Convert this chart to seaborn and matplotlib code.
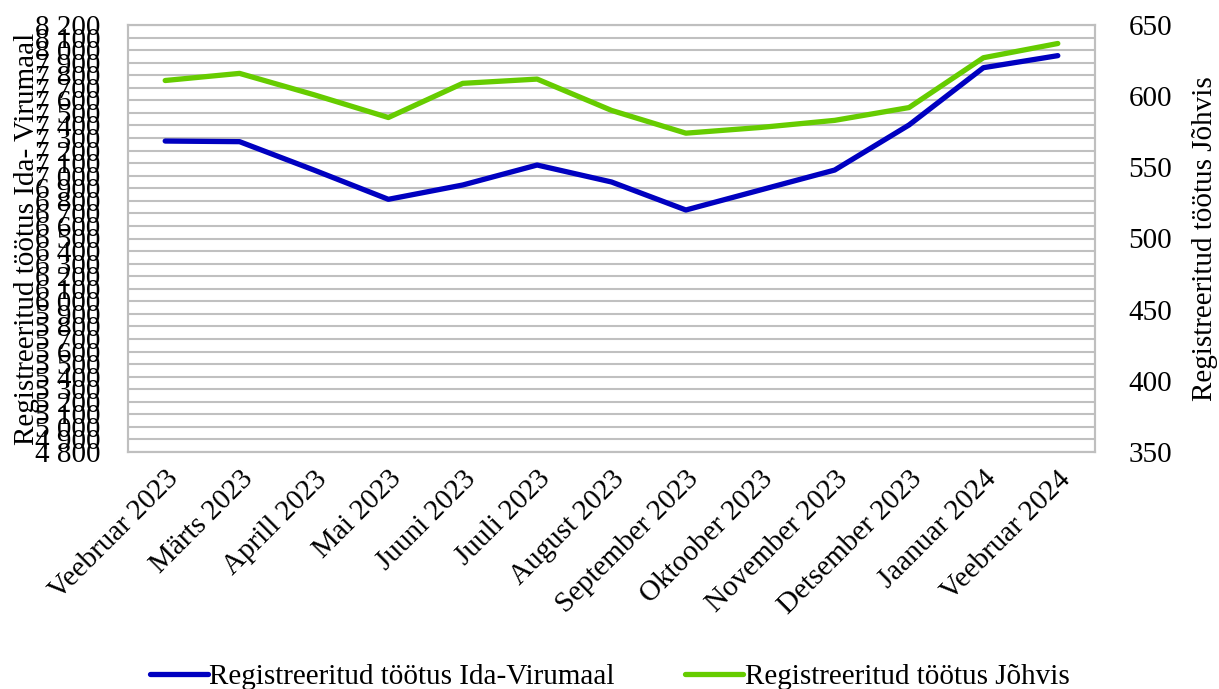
import matplotlib
matplotlib.use("Agg")
import matplotlib.pyplot as plt
import matplotlib.ticker as mticker
import seaborn as sns
import pandas as pd
import numpy as np

months = ["Veebruar 2023", "Märts 2023", "Aprill 2023", "Mai 2023", "Juuni 2023",
          "Juuli 2023", "August 2023", "September 2023", "Oktoober 2023",
          "November 2023", "Detsember 2023", "Jaanuar 2024", "Veebruar 2024"]
ida_viru = [7276, 7271, 7045, 6812, 6926, 7085, 6950, 6727, 6886, 7045, 7404, 7860, 7956]
johvi = [611, 616, 601, 585, 609, 612, 590, 574, 578, 583, 592, 627, 637]

label_ida = "Registreeritud töötus Ida-Virumaal"
label_joh = "Registreeritud töötus Jõhvis"

sns.set_theme(style="white")
plt.rcParams['font.family'] = ['Liberation Serif', 'DejaVu Serif']
plt.rcParams['text.color'] = 'black'
plt.rcParams['axes.labelcolor'] = 'black'
plt.rcParams['xtick.color'] = 'black'
plt.rcParams['ytick.color'] = 'black'
FS = 21

df = pd.DataFrame({"month": months, "x": np.arange(len(months)),
                   "ida": ida_viru, "joh": johvi})

fig = plt.figure(figsize=(12.19, 6.89), dpi=100)
ax = fig.add_axes([128/1219, 1 - 452/689, (1095-128)/1219, (452-25)/689])
ax2 = ax.twinx()

sns.lineplot(data=df, x="x", y="ida", ax=ax, color="#0000C0", lw=3.8,
             label=label_ida, legend=False, solid_capstyle="round")
sns.lineplot(data=df, x="x", y="joh", ax=ax2, color="#66CC00", lw=3.8,
             label=label_joh, legend=False, solid_capstyle="round")

ax.set_xlim(-0.5, len(months) - 0.5)
ax.set_ylim(4800, 8200)
ax.set_yticks(np.arange(4800, 8201, 100))
ax.yaxis.set_major_formatter(mticker.FuncFormatter(lambda v, p: f"{int(v):,}".replace(",", " ")))
ax2.set_ylim(350, 650)
ax2.set_yticks(np.arange(350, 651, 50))

ax.grid(axis="y", color="#c0c0c0", lw=1.5)
ax.set_axisbelow(True)
for a in (ax, ax2):
    for s in a.spines.values():
        s.set_color("#bfbfbf")
        s.set_linewidth(1.5)
    a.tick_params(length=0, labelsize=FS, colors="black")

ax.set_xticks(df["x"])
ax.set_xticklabels(months, rotation=45, ha="right", rotation_mode="anchor", fontsize=FS)
ax.tick_params(axis="x", pad=10)
ax.tick_params(axis="y", pad=20)
ax2.tick_params(axis="y", pad=24)
ax.set_xlabel("")
ax.set_ylabel("Registreeritud töötus Ida- Virumaal", fontsize=FS, labelpad=-4)
ax2.set_ylabel("Registreeritud töötus Jõhvis", fontsize=FS, labelpad=14)

h1, l1 = ax.get_legend_handles_labels()
h2, l2 = ax2.get_legend_handles_labels()
fig.legend(h1 + h2, l1 + l2, loc="lower center", ncol=2, frameon=False,
           fontsize=FS, bbox_to_anchor=(0.5, -0.04), handlelength=2.0,
           handletextpad=0.05, columnspacing=2.4)

fig.savefig("out.png", dpi=100)
